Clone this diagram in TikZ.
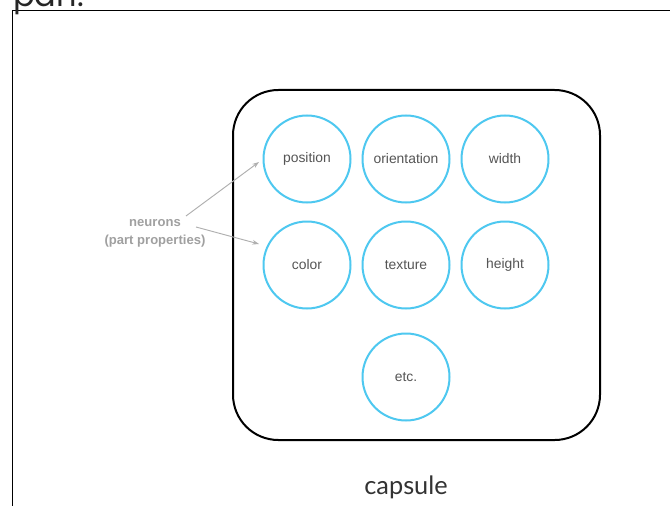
\documentclass[tikz,border=0pt]{standalone}
\usepackage{fontspec}
\setmainfont{Liberation Sans}
\newfontfamily\geofont{Poppins}
\newfontfamily\capfont{Lato}
\usetikzlibrary{arrows.meta}
\definecolor{neuroncyan}{RGB}{78,200,240}
\definecolor{labelgray}{RGB}{85,85,85}
\definecolor{notegray}{RGB}{160,160,160}
\definecolor{arrowgray}{RGB}{175,175,175}
\begin{document}
\begin{tikzpicture}[x=0.75pt,y=-0.75pt,
  neuron/.style={circle,draw=neuroncyan,line width=1.5pt,minimum size=65.25pt,inner sep=0pt,
    font=\fontsize{10.4pt}{12pt}\selectfont,text=labelgray},
  pointer/.style={draw=arrowgray,line width=0.7pt,-{Stealth[length=5pt,width=3.5pt]}}]
\useasboundingbox (0,0) rectangle (670,506);
\fill[white] (0,0) rectangle (670,506);
% frame
\draw[line width=1pt] (670,10.5) -- (12.5,10.5) -- (12.5,506);
\node[anchor=base west,inner sep=0pt,font=\geofont\fontsize{24pt}{24pt}\selectfont,text=black!85] (pan) at (13,7) {pan.};
% capsule box
\draw[line width=1.5pt,rounded corners=34pt] (233,90) rectangle (600,440);
\node[neuron] (position) at (307,159) {position};
\node[neuron] (orientation) at (406,159) {orientation};
\node[neuron] (width) at (505,159) {width};
\node[neuron] (color) at (307,265) {color};
\node[neuron] (texture) at (406,265) {texture};
\node[neuron] (height) at (505,265) {height};
\node[neuron] (etc) at (406,377) {etc.};
\node[align=center,font=\bfseries\fontsize{9.8pt}{13.5pt}\selectfont,text=notegray,inner sep=1pt] (neurons) at (155,233) {neurons\\(part properties)};
\coordinate (a1) at (259,162);
\coordinate (a2) at (259,244);
\draw[pointer] (186,216) -- (a1);
\draw[pointer] (196,227) -- (a2);
\node[font=\capfont\fontsize{19pt}{21pt}\selectfont,text=black!80] (capsule) at (406,487) {capsule};
\end{tikzpicture}
\end{document}
